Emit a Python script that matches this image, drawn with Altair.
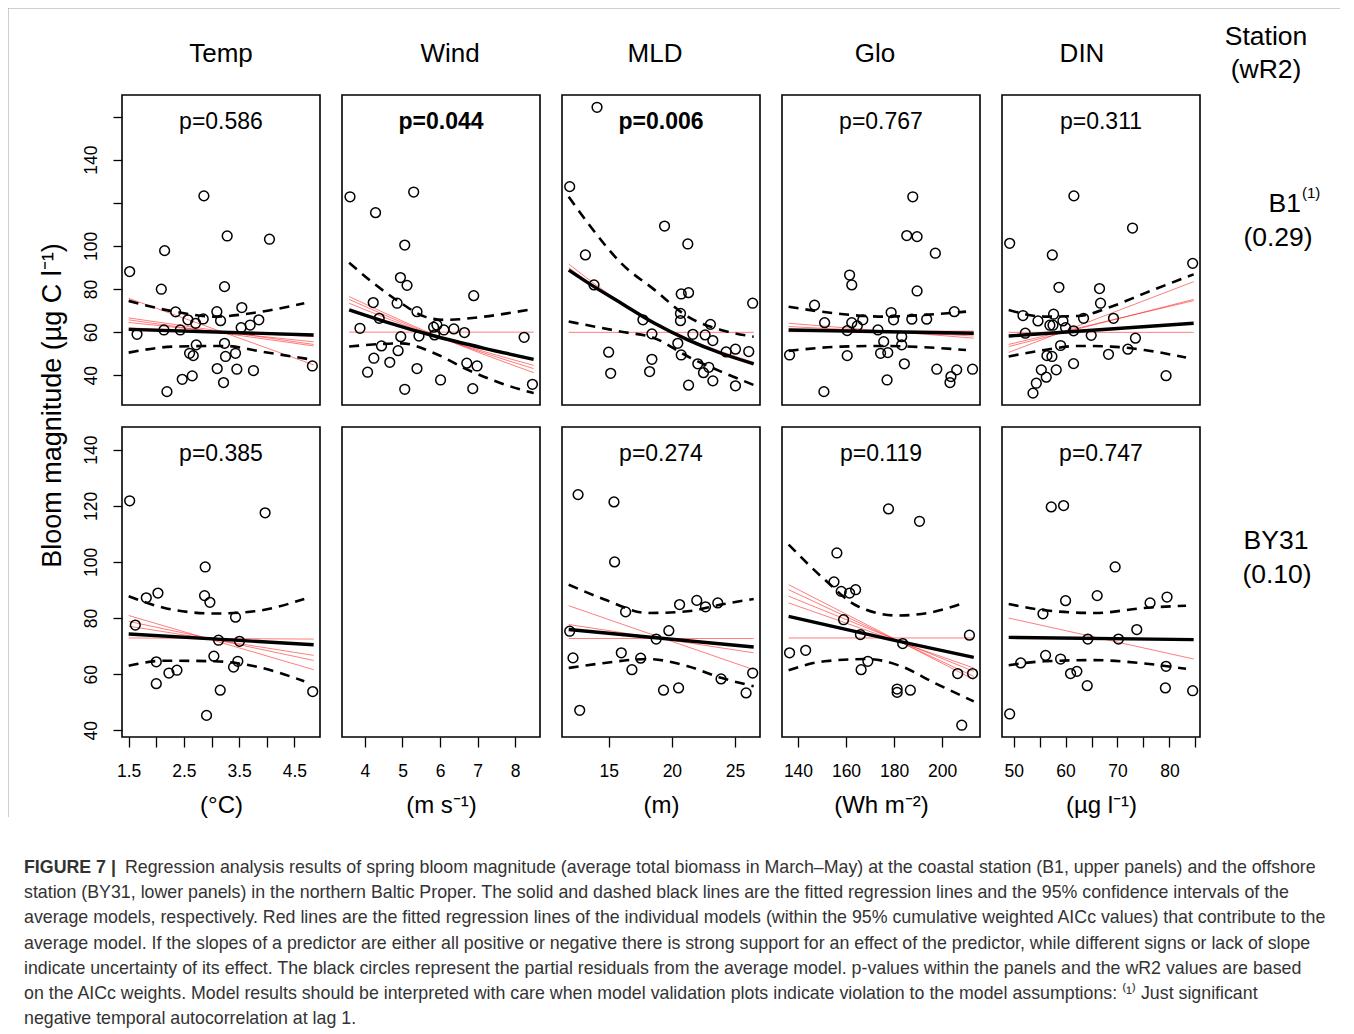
import altair as alt
import pandas as pd

FONT = "Liberation Sans"

# ---------------- shared axis settings ----------------
TOP_Y_DOMAIN = [26.2, 170.0]
BOT_Y_DOMAIN = [37.6, 148.1]
TOP_Y_TICKS = [40, 60, 80, 100, 120, 140, 160]
TOP_Y_LABELED = [40, 60, 80, 100, 140]
BOT_Y_TICKS = [40, 60, 80, 100, 120, 140]
Y_TITLE = "Bloom magnitude (µg C l⁻¹)"

VARIABLES = ["Temp", "Wind", "MLD", "Glo", "DIN"]
UNITS = ["(°C)", "(m s⁻¹)", "(m)", "(Wh m⁻²)", "(µg l⁻¹)"]

TEMP_DOMAIN = [1.379, 4.965]
WIND_DOMAIN = [3.39, 8.66]
MLD_DOMAIN = [11.31, 26.97]
GLO_DOMAIN = [133.35, 215.8]
DIN_DOMAIN = [47.75, 85.9]

TEMP_TICKS = [1.5, 2.0, 2.5, 3.0, 3.5, 4.0, 4.5]
TEMP_LABELED = [1.5, 2.5, 3.5, 4.5]
WIND_TICKS = [4, 5, 6, 7, 8]
MLD_TICKS = [15, 20, 25]
GLO_TICKS = [140, 160, 180, 200]
DIN_TICKS = [50, 55, 60, 65, 70, 75, 80, 85]
DIN_LABELED = [50, 60, 70, 80]

P_TOP = ["p=0.586", "p=0.044", "p=0.006", "p=0.767", "p=0.311"]
P_TOP_BOLD = [False, True, True, False, False]
P_BOT = ["p=0.385", "", "p=0.274", "p=0.119", "p=0.747"]

STATIONS = ["B1", "BY31"]
STATION_SUP = "(1)"
WR2 = ["(0.29)", "(0.10)"]
HEADER = ["Station", "\u00a0\u00a0(wR2)"]

# ---------------- B1 (upper row) ----------------
TEMP_B1_X = [1.518, 2.862, 3.284, 4.05, 2.151, 2.091, 3.236, 2.35, 3.097, 3.549, 2.573, 2.712, 2.85, 3.164,
             3.857, 3.70, 3.537, 1.651, 2.139, 2.434, 2.724, 3.236, 2.603, 2.669, 3.254, 3.435, 3.103, 3.459,
             3.76, 2.47, 2.651, 3.218, 2.193, 4.827]
TEMP_B1_Y = [88.1, 123.2, 104.6, 103.1, 97.8, 79.9, 81.1, 69.4, 69.5, 71.4, 65.7, 64.1, 66.1, 65.3,
             65.7, 63.3, 62.1, 59.0, 61.0, 61.0, 54.1, 54.8, 50.2, 49.1, 48.7, 50.2, 43.1, 42.8,
             42.2, 38.1, 39.7, 36.6, 32.4, 44.3]
TEMP_B1_FIT_X = [1.5, 4.85]
TEMP_B1_FIT_Y = [61.3, 58.7]
TEMP_B1_UP_X = [1.5, 2.33, 3.06, 3.78, 4.68]
TEMP_B1_UP_Y = [74.5, 69.5, 67.2, 69.0, 73.4]
TEMP_B1_LO_X = [1.5, 2.33, 3.24, 3.90, 4.85]
TEMP_B1_LO_Y = [50.5, 53.3, 53.6, 51.0, 47.1]
TEMP_B1_RED_X = [1.5, 4.85]
TEMP_B1_RED_Y = [[75.7, 44.8], [66.6, 54.3], [65.7, 53.6], [64.5, 55.5], [62.0, 58.0]]

WIND_B1_X = [3.603, 5.298, 4.283, 5.06, 4.945, 5.121, 6.896, 4.221, 4.857, 5.386, 4.38, 3.868, 4.954, 5.439,
             5.828, 5.916, 5.854, 6.102, 6.366, 6.649, 8.238, 4.441, 4.883, 4.238, 4.662, 4.071, 5.386,
             6.711, 6.985, 6.013, 5.06, 6.87, 8.459]
WIND_B1_Y = [122.8, 125.0, 115.4, 100.4, 85.3, 81.7, 76.9, 73.7, 73.4, 69.5, 66.4, 61.8, 57.9, 58.2,
             62.3, 63.3, 58.7, 61.0, 61.5, 59.8, 57.6, 53.6, 51.4, 47.9, 46.0, 41.4, 43.1,
             45.6, 44.3, 37.8, 33.5, 33.8, 35.8]
WIND_B1_FIT_X = [3.58, 4.53, 5.85, 7.18, 8.49]
WIND_B1_FIT_Y = [70.3, 64.9, 58.2, 52.5, 47.4]
WIND_B1_UP_X = [3.58, 4.18, 4.97, 5.59, 6.12, 7.18, 8.33]
WIND_B1_UP_Y = [92.2, 83.4, 73.4, 67.2, 65.7, 67.2, 70.3]
WIND_B1_LO_X = [3.58, 4.97, 5.85, 6.74, 7.62, 8.49]
WIND_B1_LO_Y = [53.3, 54.8, 50.2, 42.5, 36.3, 31.7]
WIND_B1_RED_X = [3.58, 5.85, 8.49]
WIND_B1_RED_Y = [[76.5, 58.7, 41.2], [75.2, 58.4, 43.1], [73.4, 58.2, 44.6], [60.0, 60.0, 60.0]]

MLD_B1_X = [14.08, 11.92, 19.42, 21.26, 13.16, 13.84, 20.74, 21.32, 26.39, 20.68, 20.68, 17.71, 18.42,
            23.05, 21.66, 22.63, 23.24, 20.47, 24.29, 25.03, 26.08, 20.74, 15.0, 18.42, 15.16, 18.24,
            22.05, 22.92, 22.5, 23.24, 21.32, 25.03]
MLD_B1_Y = [164.3, 127.5, 109.2, 100.9, 95.8, 81.9, 77.7, 78.3, 73.4, 68.7, 65.3, 65.7, 59.2,
            63.6, 59.0, 58.7, 56.1, 54.8, 50.8, 52.1, 51.0, 49.4, 50.7, 47.4, 40.9, 41.7,
            45.3, 43.7, 41.2, 37.4, 35.4, 35.1]
MLD_B1_FIT_X = [11.84, 13.84, 16.0, 18.63, 21.26, 23.89, 26.47]
MLD_B1_FIT_Y = [88.8, 81.1, 73.4, 64.1, 56.4, 50.2, 45.3]
MLD_B1_UP_X = [11.84, 13.37, 16.0, 18.63, 21.26, 23.89, 26.47]
MLD_B1_UP_Y = [122.8, 110.5, 91.9, 79.6, 67.2, 61.0, 57.9]
MLD_B1_LO_X = [11.84, 16.0, 18.63, 21.26, 23.89, 26.47]
MLD_B1_LO_Y = [64.9, 60.2, 57.2, 48.7, 41.7, 35.5]
MLD_B1_RED_X = [11.84, 13.84, 18.63, 26.47]
MLD_B1_RED_Y = [[91.6, 82.6, 64.4, 46.0], [89.9, 81.5, 64.1, 45.3], [59.9, 59.9, 59.9, 59.9]]

GLO_B1_X = [187.8, 185.3, 189.6, 197.2, 161.5, 162.4, 189.6, 146.9, 205.1, 178.8, 151.1, 162.4, 167.0,
            164.7, 160.5, 179.8, 187.4, 193.6, 173.3, 175.7, 183.2, 183.2, 136.5, 160.5, 174.4, 177.4,
            184.3, 197.8, 206.1, 203.7, 203.3, 212.7, 177.1, 150.8]
GLO_B1_Y = [122.8, 104.8, 104.3, 96.6, 86.5, 81.9, 79.1, 72.5, 69.5, 69.1, 64.4, 64.4, 65.7,
            62.9, 60.7, 65.7, 66.0, 66.0, 61.0, 55.6, 57.9, 54.1, 49.4, 49.1, 50.2, 50.5,
            45.3, 42.8, 42.5, 39.4, 36.6, 42.8, 37.8, 32.4]
GLO_B1_FIT_X = [136.1, 213.2]
GLO_B1_FIT_Y = [61.0, 59.5]
GLO_B1_UP_X = [136.1, 158.0, 176.0, 192.7, 210.0]
GLO_B1_UP_Y = [71.8, 68.4, 67.2, 68.0, 69.5]
GLO_B1_LO_X = [136.1, 158.0, 176.0, 192.7, 210.0]
GLO_B1_LO_Y = [51.3, 53.3, 53.6, 53.0, 51.7]
GLO_B1_RED_X = [136.1, 213.2]
GLO_B1_RED_Y = [[64.1, 57.2], [62.6, 58.2], [60.2, 60.5]]

DIN_B1_X = [61.6, 72.9, 49.23, 57.44, 84.49, 58.72, 66.54, 66.73, 51.79, 54.68, 57.69, 59.49, 56.98,
            57.57, 60.0, 61.54, 63.46, 69.23, 52.24, 64.94, 59.04, 73.46, 56.41, 57.37, 68.27, 72.0,
            61.54, 55.32, 58.2, 56.28, 54.36, 53.72, 79.36]
DIN_B1_Y = [123.2, 108.3, 101.2, 95.8, 91.9, 80.8, 80.2, 73.4, 67.7, 65.2, 68.3, 65.2, 63.2,
            63.2, 62.1, 60.6, 66.4, 66.4, 59.5, 58.5, 53.8, 57.2, 49.1, 48.7, 49.7, 52.1,
            45.4, 42.5, 42.5, 39.1, 36.3, 31.7, 39.8]
DIN_B1_FIT_X = [49.04, 84.68]
DIN_B1_FIT_Y = [58.2, 64.1]
DIN_B1_UP_X = [49.04, 55.96, 62.37, 68.78, 75.19, 84.68]
DIN_B1_UP_Y = [70.3, 67.2, 67.5, 71.8, 78.0, 86.8]
DIN_B1_LO_X = [49.04, 55.96, 62.37, 68.78, 75.19, 83.21]
DIN_B1_LO_Y = [48.7, 51.7, 53.6, 53.3, 51.7, 48.2]
DIN_B1_RED_X = [49.04, 84.68]
DIN_B1_RED_Y = [[50.6, 83.4], [53.3, 75.2], [54.3, 74.6], [59.9, 59.9]]

# ---------------- BY31 (lower row) ----------------
TEMP_BY_X = [1.518, 3.971, 2.886, 1.819, 2.03, 2.874, 2.971, 3.435, 1.62, 3.127, 3.507, 3.043, 2.0,
             3.477, 3.399, 2.229, 2.374, 2.0, 3.158, 4.833, 2.91]
TEMP_BY_Y = [121.8, 117.5, 98.2, 87.2, 88.9, 88.0, 85.6, 80.3, 77.5, 72.1, 71.7, 66.4, 64.4,
             64.6, 62.5, 60.4, 61.4, 56.6, 54.3, 53.8, 45.3]
TEMP_BY_FIT_X = [1.5, 4.85]
TEMP_BY_FIT_Y = [74.3, 70.5]
TEMP_BY_UP_X = [1.5, 2.15, 3.06, 3.78, 4.68]
TEMP_BY_UP_Y = [87.8, 83.6, 81.6, 82.4, 86.8]
TEMP_BY_LO_X = [1.5, 2.15, 3.06, 3.78, 4.68]
TEMP_BY_LO_Y = [63.0, 64.8, 64.6, 62.8, 57.5]
TEMP_BY_RED_X = [1.5, 4.85]
TEMP_BY_RED_Y = [[80.9, 61.6], [78.8, 64.9], [77.1, 66.7], [72.9, 72.5]]

MLD_BY_X = [12.58, 15.42, 15.47, 16.34, 20.61, 21.97, 22.66, 23.63, 11.92, 19.76, 18.76, 12.18, 16.0,
            17.53, 16.84, 23.89, 26.39, 19.34, 20.53, 25.87, 12.71]
MLD_BY_Y = [124.0, 121.4, 100.0, 82.2, 84.8, 86.3, 84.0, 85.4, 75.3, 75.5, 72.5, 65.8, 67.6,
            65.7, 61.6, 58.3, 60.4, 54.3, 55.1, 53.3, 47.1]
MLD_BY_FIT_X = [11.84, 26.47]
MLD_BY_FIT_Y = [75.9, 69.7]
MLD_BY_UP_X = [11.84, 14.68, 18.11, 21.26, 23.89, 26.47]
MLD_BY_UP_Y = [91.9, 86.6, 81.8, 82.4, 84.8, 86.8]
MLD_BY_LO_X = [11.84, 14.68, 18.11, 21.26, 23.89, 26.47]
MLD_BY_LO_Y = [62.2, 64.0, 65.4, 62.8, 58.7, 55.7]
MLD_BY_RED_X = [11.84, 26.47]
MLD_BY_RED_Y = [[84.4, 61.6], [77.7, 67.6], [72.7, 72.7]]

GLO_BY_X = [177.7, 190.6, 156.2, 155.0, 158.0, 161.5, 164.0, 159.0, 166.0, 183.6, 211.4, 136.5, 143.2,
            169.1, 166.3, 181.3, 181.3, 186.8, 206.5, 212.7, 208.2]
GLO_BY_Y = [118.9, 114.5, 103.2, 92.9, 89.5, 88.9, 90.1, 79.4, 74.1, 70.9, 73.9, 67.6, 68.5,
            64.6, 61.6, 53.5, 54.7, 54.3, 60.2, 60.2, 41.8]
GLO_BY_FIT_X = [136.1, 178.8, 213.2]
GLO_BY_FIT_Y = [80.6, 72.3, 66.0]
GLO_BY_UP_X = [136.1, 151.1, 164.9, 181.6, 194.0, 209.3]
GLO_BY_UP_Y = [106.2, 93.7, 84.2, 80.9, 81.8, 85.4]
GLO_BY_LO_X = [136.1, 151.1, 169.1, 183.0, 196.8, 213.2]
GLO_BY_LO_Y = [61.4, 64.6, 65.4, 62.8, 56.9, 50.3]
GLO_BY_RED_X = [136.1, 213.2]
GLO_BY_RED_Y = [[91.9, 58.1], [90.1, 59.2], [87.8, 61.0], [85.4, 62.2], [72.9, 72.9]]

DIN_BY_X = [57.24, 59.62, 69.55, 66.09, 60.0, 76.28, 79.55, 55.64, 73.72, 64.29, 70.19, 51.35, 56.15,
            59.04, 60.96, 62.18, 64.17, 79.36, 79.23, 84.49, 49.23]
DIN_BY_Y = [119.6, 120.1, 98.2, 88.0, 86.2, 85.4, 87.5, 81.5, 75.9, 72.5, 72.5, 64.0, 66.7,
            65.4, 60.2, 61.0, 55.9, 62.8, 55.1, 54.1, 45.8]
DIN_BY_FIT_X = [49.04, 84.68]
DIN_BY_FIT_Y = [73.1, 72.3]
DIN_BY_UP_X = [49.04, 55.96, 65.58, 75.19, 83.21]
DIN_BY_UP_Y = [85.0, 82.8, 81.8, 83.6, 84.4]
DIN_BY_LO_X = [49.04, 55.96, 65.58, 75.19, 83.21]
DIN_BY_LO_Y = [63.2, 64.6, 65.0, 63.8, 61.9]
DIN_BY_RED_X = [49.04, 84.68]
DIN_BY_RED_Y = [[80.0, 65.4]]

# ---------------- caption ----------------
CAPTION_BOLD = "FIGURE 7 |"
CAPTION_FIRST = ("Regression analysis results of spring bloom magnitude (average total biomass in March–May) "
                 "at the coastal station (B1, upper panels) and the offshore")
CAPTION_REST = [
    "station (BY31, lower panels) in the northern Baltic Proper. The solid and dashed black lines are the fitted regression lines and the 95% confidence intervals of the",
    "average models, respectively. Red lines are the fitted regression lines of the individual models (within the 95% cumulative weighted AICc values) that contribute to the",
    "average model. If the slopes of a predictor are either all positive or negative there is strong support for an effect of the predictor, while different signs or lack of slope",
    "indicate uncertainty of its effect. The black circles represent the partial residuals from the average model. p-values within the panels and the wR2 values are based",
    "on the AICc weights. Model results should be interpreted with care when model validation plots indicate violation to the model assumptions: ⁽¹⁾ Just significant",
    "negative temporal autocorrelation at lag 1.",
]

PW, PH = 198, 310
TITLE_DX = [0, 9, -6, -6, -19]


def make_panel(xdom, ydom, px, py, fit, up, lo, red_x, red_y, ptext, pbold,
               xaxis, yaxis, title, title_dx=0, dummy_x=None):
    xs = alt.Scale(domain=xdom, nice=False, zero=False)
    ys = alt.Scale(domain=ydom, nice=False, zero=False)
    layers = []
    if red_x is not None:
        rows = []
        for i, ry in enumerate(red_y):
            for xv, yv in zip(red_x, ry):
                rows.append({"x": xv, "y": yv, "id": f"r{i}"})
        layers.append(alt.Chart(pd.DataFrame(rows)).mark_line(
            color="#ff2020", strokeWidth=0.9, opacity=0.65, interpolate="monotone", clip=True
        ).encode(x=alt.X("x:Q", scale=xs, axis=xaxis), y=alt.Y("y:Q", scale=ys, axis=yaxis),
                 detail="id:N"))
        rows = []
        for name, (cx, cy) in (("up", up), ("lo", lo)):
            for xv, yv in zip(cx, cy):
                rows.append({"x": xv, "y": yv, "id": name})
        layers.append(alt.Chart(pd.DataFrame(rows)).mark_line(
            color="black", strokeWidth=2.6, strokeDash=[10, 7], interpolate="monotone", clip=True
        ).encode(x=alt.X("x:Q", scale=xs, axis=xaxis), y=alt.Y("y:Q", scale=ys, axis=yaxis),
                 detail="id:N"))
        layers.append(alt.Chart(pd.DataFrame({"x": fit[0], "y": fit[1]})).mark_line(
            color="black", strokeWidth=3.4, interpolate="monotone", clip=True
        ).encode(x=alt.X("x:Q", scale=xs, axis=xaxis), y=alt.Y("y:Q", scale=ys, axis=yaxis)))
        layers.append(alt.Chart(pd.DataFrame({"x": px, "y": py})).mark_point(
            shape="circle", filled=False, color="black", size=95, strokeWidth=1.5, opacity=1
        ).encode(x=alt.X("x:Q", scale=xs, axis=xaxis), y=alt.Y("y:Q", scale=ys, axis=yaxis)))
        layers.append(alt.Chart(pd.DataFrame({"t": [ptext]})).mark_text(
            font=FONT, fontSize=23, fontWeight="bold" if pbold else "normal", color="black",
            align="center", baseline="middle"
        ).encode(text="t:N", x=alt.value(PW / 2), y=alt.value(27)))
    else:
        layers.append(alt.Chart(pd.DataFrame({"x": dummy_x})).mark_tick(opacity=0).encode(
            x=alt.X("x:Q", scale=xs, axis=xaxis)))
    ch = alt.layer(*layers).properties(width=PW, height=PH)
    if title is not None:
        ch = ch.properties(title=alt.TitleParams(title, fontSize=26, font=FONT, fontWeight="normal",
                                                 anchor="middle", baseline="bottom", offset=2,
                                                 dx=title_dx))
    return ch


def x_axis(ticks, unit, labeled=None):
    kw = dict(values=ticks, title=unit, tickSize=10, tickWidth=1.3, labelPadding=15,
              titlePadding=14, labelFlush=False, labelOverlap=False, domain=False, grid=False,
              labelFontSize=17.5, titleFontSize=24)
    if labeled is not None:
        kw["labelExpr"] = "indexof(" + str(labeled) + ", datum.value) >= 0 ? datum.label : ''"
    return alt.Axis(**kw)


def y_axis(ticks, labeled=None, title=None):
    kw = dict(values=ticks, tickSize=9, tickWidth=1.3, labelPadding=17, labelAngle=270,
              labelAlign="center", labelBaseline="alphabetic", labelFlush=False,
              labelOverlap=False, domain=False, grid=False, labelFontSize=17.5)
    if labeled is not None:
        kw["labelExpr"] = "indexof(" + str(labeled) + ", datum.value) >= 0 ? datum.label : ''"
    if title is not None:
        kw.update(title=title, titleX=-56, titleY=310, titleAngle=270, titleAlign="center",
                  titleBaseline="bottom", titleFontSize=27)
    else:
        kw["title"] = None
    return alt.Axis(**kw)


top_row = [
    make_panel(TEMP_DOMAIN, TOP_Y_DOMAIN, TEMP_B1_X, TEMP_B1_Y, (TEMP_B1_FIT_X, TEMP_B1_FIT_Y),
               (TEMP_B1_UP_X, TEMP_B1_UP_Y), (TEMP_B1_LO_X, TEMP_B1_LO_Y), TEMP_B1_RED_X, TEMP_B1_RED_Y,
               P_TOP[0], P_TOP_BOLD[0], None, y_axis(TOP_Y_TICKS, TOP_Y_LABELED, Y_TITLE), VARIABLES[0],
               TITLE_DX[0]),
    make_panel(WIND_DOMAIN, TOP_Y_DOMAIN, WIND_B1_X, WIND_B1_Y, (WIND_B1_FIT_X, WIND_B1_FIT_Y),
               (WIND_B1_UP_X, WIND_B1_UP_Y), (WIND_B1_LO_X, WIND_B1_LO_Y), WIND_B1_RED_X, WIND_B1_RED_Y,
               P_TOP[1], P_TOP_BOLD[1], None, None, VARIABLES[1], TITLE_DX[1]),
    make_panel(MLD_DOMAIN, TOP_Y_DOMAIN, MLD_B1_X, MLD_B1_Y, (MLD_B1_FIT_X, MLD_B1_FIT_Y),
               (MLD_B1_UP_X, MLD_B1_UP_Y), (MLD_B1_LO_X, MLD_B1_LO_Y), MLD_B1_RED_X, MLD_B1_RED_Y,
               P_TOP[2], P_TOP_BOLD[2], None, None, VARIABLES[2], TITLE_DX[2]),
    make_panel(GLO_DOMAIN, TOP_Y_DOMAIN, GLO_B1_X, GLO_B1_Y, (GLO_B1_FIT_X, GLO_B1_FIT_Y),
               (GLO_B1_UP_X, GLO_B1_UP_Y), (GLO_B1_LO_X, GLO_B1_LO_Y), GLO_B1_RED_X, GLO_B1_RED_Y,
               P_TOP[3], P_TOP_BOLD[3], None, None, VARIABLES[3], TITLE_DX[3]),
    make_panel(DIN_DOMAIN, TOP_Y_DOMAIN, DIN_B1_X, DIN_B1_Y, (DIN_B1_FIT_X, DIN_B1_FIT_Y),
               (DIN_B1_UP_X, DIN_B1_UP_Y), (DIN_B1_LO_X, DIN_B1_LO_Y), DIN_B1_RED_X, DIN_B1_RED_Y,
               P_TOP[4], P_TOP_BOLD[4], None, None, VARIABLES[4], TITLE_DX[4]),
]

bot_row = [
    make_panel(TEMP_DOMAIN, BOT_Y_DOMAIN, TEMP_BY_X, TEMP_BY_Y, (TEMP_BY_FIT_X, TEMP_BY_FIT_Y),
               (TEMP_BY_UP_X, TEMP_BY_UP_Y), (TEMP_BY_LO_X, TEMP_BY_LO_Y), TEMP_BY_RED_X, TEMP_BY_RED_Y,
               P_BOT[0], False, x_axis(TEMP_TICKS, UNITS[0], TEMP_LABELED), y_axis(BOT_Y_TICKS), None),
    make_panel(WIND_DOMAIN, BOT_Y_DOMAIN, None, None, None, None, None, None, None,
               P_BOT[1], False, x_axis(WIND_TICKS, UNITS[1]), None, None, dummy_x=WIND_TICKS),
    make_panel(MLD_DOMAIN, BOT_Y_DOMAIN, MLD_BY_X, MLD_BY_Y, (MLD_BY_FIT_X, MLD_BY_FIT_Y),
               (MLD_BY_UP_X, MLD_BY_UP_Y), (MLD_BY_LO_X, MLD_BY_LO_Y), MLD_BY_RED_X, MLD_BY_RED_Y,
               P_BOT[2], False, x_axis(MLD_TICKS, UNITS[2]), None, None),
    make_panel(GLO_DOMAIN, BOT_Y_DOMAIN, GLO_BY_X, GLO_BY_Y, (GLO_BY_FIT_X, GLO_BY_FIT_Y),
               (GLO_BY_UP_X, GLO_BY_UP_Y), (GLO_BY_LO_X, GLO_BY_LO_Y), GLO_BY_RED_X, GLO_BY_RED_Y,
               P_BOT[3], False, x_axis(GLO_TICKS, UNITS[3]), None, None),
    make_panel(DIN_DOMAIN, BOT_Y_DOMAIN, DIN_BY_X, DIN_BY_Y, (DIN_BY_FIT_X, DIN_BY_FIT_Y),
               (DIN_BY_UP_X, DIN_BY_UP_Y), (DIN_BY_LO_X, DIN_BY_LO_Y), DIN_BY_RED_X, DIN_BY_RED_Y,
               P_BOT[4], False, x_axis(DIN_TICKS, UNITS[4], DIN_LABELED), None, None),
]

NOVIEW = alt.ViewBackground(stroke="transparent")


def label_text(txt, x, y, size=26.5, align="center"):
    return alt.Chart(pd.DataFrame({"t": [txt]})).mark_text(
        font=FONT, fontSize=size, color="black", align=align, baseline="middle"
    ).encode(text="t:N", x=alt.value(x), y=alt.value(y))


# thin grey figure frame (top and left edges), anchored on the last grid cell
frame_top = alt.Chart(pd.DataFrame({"k": [0]})).mark_rule(color="#a0a0a0", strokeWidth=1, clip=False).encode(
    x=alt.value(-1214), x2=alt.value(118), y=alt.value(-419))
frame_left = alt.Chart(pd.DataFrame({"k": [0]})).mark_rule(color="#a0a0a0", strokeWidth=1, clip=False).encode(
    x=alt.value(-1214), y=alt.value(-419), y2=alt.value(390))

top_label = alt.layer(
    label_text(STATIONS[0], 79, 109, align="right"),
    label_text(STATION_SUP, 80, 98, size=15, align="left"),
    label_text(WR2[0], 56, 143),
).properties(width=120, height=PH, view=NOVIEW,
             title=alt.TitleParams(HEADER, fontSize=26.5, font=FONT, fontWeight="normal",
                                   anchor="middle", baseline="bottom", offset=-15, lineHeight=33, dx=-16))

bot_label = alt.layer(
    label_text(STATIONS[1], 54, 114),
    label_text(WR2[1], 55, 148),
    frame_top,
    frame_left,
).properties(width=120, height=PH, view=NOVIEW)

grid = alt.concat(*(top_row + [top_label] + bot_row + [bot_label]), columns=6,
                  spacing={"row": 22, "column": 22}, bounds="flush")

CAP_SIZE = 17.8
cap_df = pd.DataFrame({"row": list(range(1, len(CAPTION_REST) + 1)), "t": CAPTION_REST})
cap_scale = alt.Scale(domain=[0, 6], range=[0, 151])
caption = alt.layer(
    alt.Chart(pd.DataFrame({"row": [0], "t": [CAPTION_BOLD]})).mark_text(
        font=FONT, fontSize=CAP_SIZE, fontWeight="bold", color="#333333", align="left", baseline="middle"
    ).encode(text="t:N", x=alt.value(-98), y=alt.Y("row:Q", scale=cap_scale, axis=None)),
    alt.Chart(pd.DataFrame({"row": [0], "t": [CAPTION_FIRST]})).mark_text(
        font=FONT, fontSize=CAP_SIZE, color="#333333", align="left", baseline="middle"
    ).encode(text="t:N", x=alt.value(3), y=alt.Y("row:Q", scale=cap_scale, axis=None)),
    alt.Chart(cap_df).mark_text(
        font=FONT, fontSize=CAP_SIZE, color="#333333", align="left", baseline="middle"
    ).encode(text="t:N", x=alt.value(-98), y=alt.Y("row:Q", scale=cap_scale, axis=None)),
).properties(width=1200, height=151, view=NOVIEW)

chart = alt.vconcat(grid, caption, spacing=39).properties(
    padding={"left": -2, "top": -2, "right": 0, "bottom": 5}
).configure_view(stroke="black", strokeWidth=1.6).configure_axis(
    labelFont=FONT, titleFont=FONT, labelColor="black", titleColor="black", tickColor="black",
    titleFontWeight="normal"
).configure_title(font=FONT, color="black")

chart.save("out.html", embed_options={"renderer": "svg", "actions": False})
